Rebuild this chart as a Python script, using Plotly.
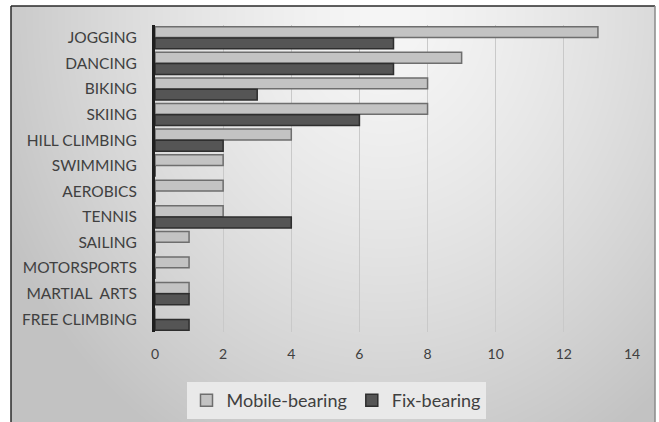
import base64, struct, zlib
import numpy as np
import plotly.graph_objects as go

categories = ["JOGGING", "DANCING", "BIKING", "SKIING", "HILL CLIMBING", "SWIMMING",
              "AEROBICS", "TENNIS", "SAILING", "MOTORSPORTS", "MARTIAL  ARTS", "FREE CLIMBING"]
mobile_bearing = [13, 9, 8, 8, 4, 2, 2, 2, 1, 1, 1, 0]
fix_bearing = [7, 7, 3, 6, 2, 0, 0, 4, 0, 0, 1, 1]
x_ticks = [0, 2, 4, 6, 8, 10, 12, 14]

W, H = 659, 422
L, R, T, B = 155, 27, 25, 90
pw, ph = W - L - R, H - T - B


def px_x(px):
    return (px - L) / pw


def px_y(py):
    return (H - B - py) / ph


# background gradient image (style only)
def make_png(w, h):
    yy, xx = np.mgrid[0:h, 0:w].astype(float)
    d = np.sqrt(((xx - 0.58 * w) / (0.66 * w)) ** 2 + ((yy - 0.02 * h) / (1.2 * h)) ** 2)
    d = np.clip(d, 0, 1)
    v = 246 - 52 * d ** 1.4
    img = np.clip(v, 0, 255).astype(np.uint8)
    raw = b"".join(b"\x00" + img[r].tobytes() for r in range(h))

    def chunk(t, data):
        c = struct.pack(">I", len(data)) + t + data
        return c + struct.pack(">I", zlib.crc32(t + data) & 0xFFFFFFFF)

    png = b"\x89PNG\r\n\x1a\n" + chunk(b"IHDR", struct.pack(">IIBBBBB", w, h, 8, 0, 0, 0, 0))
    png += chunk(b"IDAT", zlib.compress(raw, 9)) + chunk(b"IEND", b"")
    return "data:image/png;base64," + base64.b64encode(png).decode()


fx0, fy0, fx1, fy1 = 11, 6, 655, 422
bg = make_png(fx1 - fx0, fy1 - fy0)

fig = go.Figure()
fig.add_trace(go.Bar(
    y=categories, x=mobile_bearing, orientation="h", name="Mobile-bearing",
    marker=dict(color="#c3c3c3", line=dict(color="#6e6e6e", width=1.5)),
))
fig.add_trace(go.Bar(
    y=categories, x=fix_bearing, orientation="h", name="Fix-bearing",
    marker=dict(color="#555555", line=dict(color="#2e2e2e", width=1.5)),
))

fig.update_layout(
    width=W, height=H,
    margin=dict(l=L, r=R, t=T, b=B, autoexpand=False),
    paper_bgcolor="white",
    plot_bgcolor="rgba(0,0,0,0)",
    barmode="group", bargap=0.12, bargroupgap=0.04,
    font=dict(family="Lato, sans-serif", color="#404040"),
    showlegend=True,
    legend=dict(orientation="h", x=px_x(336), xanchor="center", y=px_y(382), yanchor="top",
                bgcolor="#e9e9e9", font=dict(size=18, color="#404040"),
                itemwidth=30, tracegroupgap=0),
    xaxis=dict(range=[0, 14], tickvals=x_ticks, showgrid=True, gridcolor="#c9c9c9", gridwidth=1,
               zeroline=False, showline=False, tickfont=dict(size=14, color="#404040"),
               ticks="", ticklabelstandoff=12),
    yaxis=dict(autorange="reversed", showline=True, linecolor="#1e1e1e", linewidth=3,
               ticks="", tickfont=dict(size=15.5, color="#404040"), ticklabelstandoff=12,
               showgrid=False),
    images=[dict(source=bg, xref="paper", yref="paper", x=px_x(fx0), y=px_y(fy0),
                 sizex=(fx1 - fx0) / pw, sizey=(fy1 - fy0) / ph, sizing="stretch",
                 xanchor="left", yanchor="top", layer="below")],
    shapes=[
        dict(type="line", xref="paper", yref="paper", x0=px_x(fx0), x1=px_x(fx1), y0=px_y(fy0), y1=px_y(fy0),
             line=dict(color="#2a2a2a", width=1.5)),
        dict(type="line", xref="paper", yref="paper", x0=px_x(fx0), x1=px_x(fx0), y0=px_y(fy0), y1=px_y(424),
             line=dict(color="#2a2a2a", width=1.5)),
        dict(type="line", xref="paper", yref="paper", x0=px_x(fx1), x1=px_x(fx1), y0=px_y(fy0), y1=px_y(424),
             line=dict(color="#8a8a8a", width=1.5)),
    ],
)

fig.write_html("out.html", config={"displayModeBar": False},
               post_script="document.body.style.margin='0px';")
